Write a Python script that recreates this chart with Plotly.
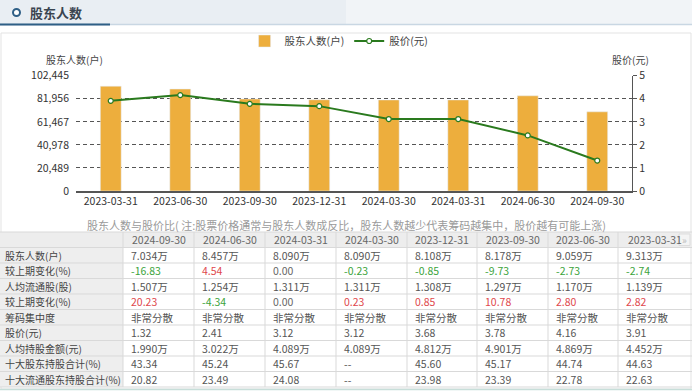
import plotly.graph_objects as go

W, H = 692, 391

dates = ["2023-03-31", "2023-06-30", "2023-09-30", "2023-12-31",
         "2024-03-30", "2024-03-31", "2024-06-30", "2024-09-30"]
holders = [93130, 90590, 81780, 81080, 80900, 80900, 84570, 70340]
price = [3.91, 4.16, 3.78, 3.68, 3.12, 3.12, 2.41, 1.32]

left_ticks = [0, 20489, 40978, 61467, 81956, 102445]

table_dates = ["2024-09-30", "2024-06-30", "2024-03-31", "2024-03-30",
               "2023-12-31", "2023-09-30", "2023-06-30", "2023-03-31"]
row_labels = ["股东人数(户)", "较上期变化(%)", "人均流通股(股)", "较上期变化(%)",
              "筹码集中度", "股价(元)", "人均持股金额(元)", "十大股东持股合计(%)",
              "十大流通股东持股合计(%)"]
r_holders = ["7.034万", "8.457万", "8.090万", "8.090万", "8.108万", "8.178万", "9.059万", "9.313万"]
r_chg1 = ["-16.83", "4.54", "0.00", "-0.23", "-0.85", "-9.73", "-2.73", "-2.74"]
r_float = ["1.507万", "1.254万", "1.311万", "1.311万", "1.308万", "1.297万", "1.170万", "1.139万"]
r_chg2 = ["20.23", "-4.34", "0.00", "0.23", "0.85", "10.78", "2.80", "2.82"]
r_conc = ["非常分散"] * 8
r_price = ["1.32", "2.41", "3.12", "3.12", "3.68", "3.78", "4.16", "3.91"]
r_amount = ["1.990万", "3.022万", "4.089万", "4.089万", "4.812万", "4.901万", "4.869万", "4.452万"]
r_top10 = ["43.34", "45.24", "45.67", "--", "45.60", "45.17", "44.74", "44.63"]
r_top10f = ["20.82", "23.49", "24.08", "--", "23.98", "23.39", "22.78", "22.63"]

rows = [r_holders, r_chg1, r_float, r_chg2, r_conc, r_price, r_amount, r_top10, r_top10f]

def px(x):
    return x / W

def py(y):
    return 1 - y / H

BAR = "#EDAE3D"
GREEN = "#2A7A1E"
CN = "Noto Sans CJK SC"
LINE = "#D9D9D9"

def val_color(s):
    try:
        v = float(s)
    except ValueError:
        return "#555555"
    if v > 0:
        return "#E0474C"
    if v < 0:
        return "#3BA33B"
    return "#666666"

fig = go.Figure()

fig.add_trace(go.Bar(
    x=dates, y=holders, name="股东人数(户)", marker_color=BAR,
    yaxis="y", xaxis="x", hoverinfo="skip"))
fig.add_trace(go.Scatter(
    x=dates, y=price, name="股价(元)", mode="lines+markers",
    line=dict(color=GREEN, width=2),
    marker=dict(size=5, color="white", line=dict(color=GREEN, width=1.2)),
    yaxis="y2", xaxis="x", hoverinfo="skip"))

shapes = [
    dict(type="rect", xref="paper", yref="paper", x0=0, x1=0.5, y0=py(24), y1=py(0),
         fillcolor="#E9EEF3", line_width=0, layer="below"),
    dict(type="rect", xref="paper", yref="paper", x0=0.5, x1=1, y0=py(24), y1=py(0),
         fillcolor="#F1F4F7", line_width=0, layer="below"),
    dict(type="line", xref="paper", yref="paper", x0=0, x1=1, y0=py(24.5), y1=py(24.5),
         line=dict(color="#C9D7E3", width=1.5)),
    dict(type="line", xref="paper", yref="paper", x0=0, x1=px(110), y0=py(24.5), y1=py(24.5),
         line=dict(color="#2F5F86", width=2)),
    dict(type="circle", xref="paper", yref="paper", x0=px(13), x1=px(20), y0=py(16), y1=py(9),
         line=dict(color="#2F5F86", width=2), fillcolor="white"),
    dict(type="rect", xref="paper", yref="paper", x0=px(1), x1=px(691), y0=py(389), y1=py(33),
         fillcolor="rgba(0,0,0,0)", line=dict(color="#E3E3E3", width=1), layer="below"),
    dict(type="line", xref="paper", yref="paper", x0=0, x1=1, y0=py(389.5), y1=py(389.5),
         line=dict(color="#C7DED9", width=1.5)),
]

annotations = [
    dict(text="<b>股东人数</b>", x=px(28), y=py(12.5), xref="paper", yref="paper", showarrow=False,
         xanchor="left", yanchor="middle", font=dict(family=CN, size=13, color="#3A4450")),
    dict(text="股东人数(户)", x=px(74), y=py(59), xref="paper", yref="paper", showarrow=False,
         xanchor="center", yanchor="middle", font=dict(family=CN, size=10, color="#444444")),
    dict(text="股价(元)", x=px(630), y=py(59), xref="paper", yref="paper", showarrow=False,
         xanchor="center", yanchor="middle", font=dict(family=CN, size=10, color="#444444")),
    dict(text="股东人数与股价比( 注:股票价格通常与股东人数成反比，股东人数越少代表筹码越集中，股价越有可能上涨)",
         x=px(346), y=py(225), xref="paper", yref="paper", showarrow=False,
         xanchor="center", yanchor="middle", font=dict(family=CN, size=11, color="#9A9A9A")),
]

# ---- table drawn with shapes + annotations ----
col_edges = [0, 123, 194, 265, 336, 407, 477, 548, 618, 692]
top = 232
rh = 15.5
n_rows = len(row_labels) + 1
row_edges = [top + rh * k for k in range(n_rows + 1)]

# header fill
shapes.append(dict(type="rect", xref="paper", yref="paper", x0=0, x1=1,
                   y0=py(row_edges[1]), y1=py(row_edges[0]),
                   fillcolor="#EDEDED", line_width=0, layer="below"))
# label column fill
shapes.append(dict(type="rect", xref="paper", yref="paper", x0=0, x1=px(col_edges[1]),
                   y0=py(row_edges[-1]), y1=py(row_edges[1]),
                   fillcolor="#EEEEEE", line_width=0, layer="below"))
for yv in row_edges:
    shapes.append(dict(type="line", xref="paper", yref="paper", x0=0, x1=1,
                       y0=py(yv), y1=py(yv), line=dict(color=LINE, width=1)))
for xv in col_edges[1:-1]:
    shapes.append(dict(type="line", xref="paper", yref="paper", x0=px(xv), x1=px(xv),
                       y0=py(row_edges[-1]), y1=py(row_edges[0]), line=dict(color=LINE, width=1)))

# scroll icon at right of header
shapes.append(dict(type="rect", xref="paper", yref="paper", x0=px(679), x1=px(690),
                   y0=py(row_edges[1] - 2), y1=py(row_edges[0] + 2),
                   fillcolor="#F4F4F4", line=dict(color="#DDDDDD", width=1)))

for ci, d in enumerate(table_dates):
    cx = (col_edges[ci + 1] + col_edges[ci + 2]) / 2
    annotations.append(dict(text=d, x=px(cx), y=py(top + rh / 2), xref="paper", yref="paper",
                            showarrow=False, xanchor="center", yanchor="middle",
                            font=dict(family=CN, size=10.5, color="#666666")))
annotations.append(dict(text="»", x=px(684.5), y=py(top + rh / 2), xref="paper", yref="paper",
                        showarrow=False, xanchor="center", yanchor="middle",
                        font=dict(family=CN, size=10, color="#BBBBBB")))

for ri, lab in enumerate(row_labels):
    cy = top + rh * (ri + 1) + rh / 2
    annotations.append(dict(text=lab, x=px(3), y=py(cy), xref="paper", yref="paper",
                            showarrow=False, xanchor="left", yanchor="middle",
                            font=dict(family=CN, size=10, color="#444444")))
    for ci in range(len(table_dates)):
        v = rows[ri][ci]
        color = val_color(v) if ri in (1, 3) else "#555555"
        annotations.append(dict(text=v, x=px(col_edges[ci + 1] + 6), y=py(cy),
                                xref="paper", yref="paper", showarrow=False,
                                xanchor="left", yanchor="middle",
                                font=dict(family=CN, size=10.5, color=color)))

fig.update_layout(
    width=W, height=H, autosize=False,
    margin=dict(l=0, r=0, t=0, b=0, pad=0, autoexpand=False),
    paper_bgcolor="white", plot_bgcolor="white",
    font=dict(family=CN, size=11, color="#333333"),
    bargap=0.7,
    showlegend=True,
    hovermode=False,
    legend=dict(orientation="h", x=0.49, xanchor="center", y=py(41), yanchor="middle",
                font=dict(family=CN, size=10.5, color="#444444"), bgcolor="rgba(0,0,0,0)",
                itemwidth=30, tracegroupgap=0),
    xaxis=dict(domain=[px(76), px(632)], type="category", showgrid=False, automargin=False,
               showline=True, linecolor="#555555", linewidth=1.5,
               tickfont=dict(family=CN, size=10.5, color="#333333"), ticks=""),
    yaxis=dict(domain=[py(191), py(75.7)], range=[0, 102445], tickvals=left_ticks,
               tickformat=",", showgrid=True, gridcolor="#555555", griddash="4px,3px",
               gridwidth=1.3, zeroline=False, showline=False, automargin=False,
               ticklabelstandoff=6,
               tickfont=dict(family=CN, size=10.5, color="#333333")),
    yaxis2=dict(overlaying="y", side="right", range=[0, 5], dtick=1, showgrid=False,
                zeroline=False, showline=True, linecolor="#555555", linewidth=1.3,
                ticks="outside", ticklen=4, tickcolor="#555555", automargin=False,
                tickfont=dict(family=CN, size=10.5, color="#333333"), anchor="x"),
    shapes=shapes,
    annotations=annotations,
)

fig.write_html(
    "out.html",
    config={"displayModeBar": False},
    post_script="document.body.style.margin='0';document.body.style.padding='0';"
                "document.documentElement.style.overflow='hidden';",
)
